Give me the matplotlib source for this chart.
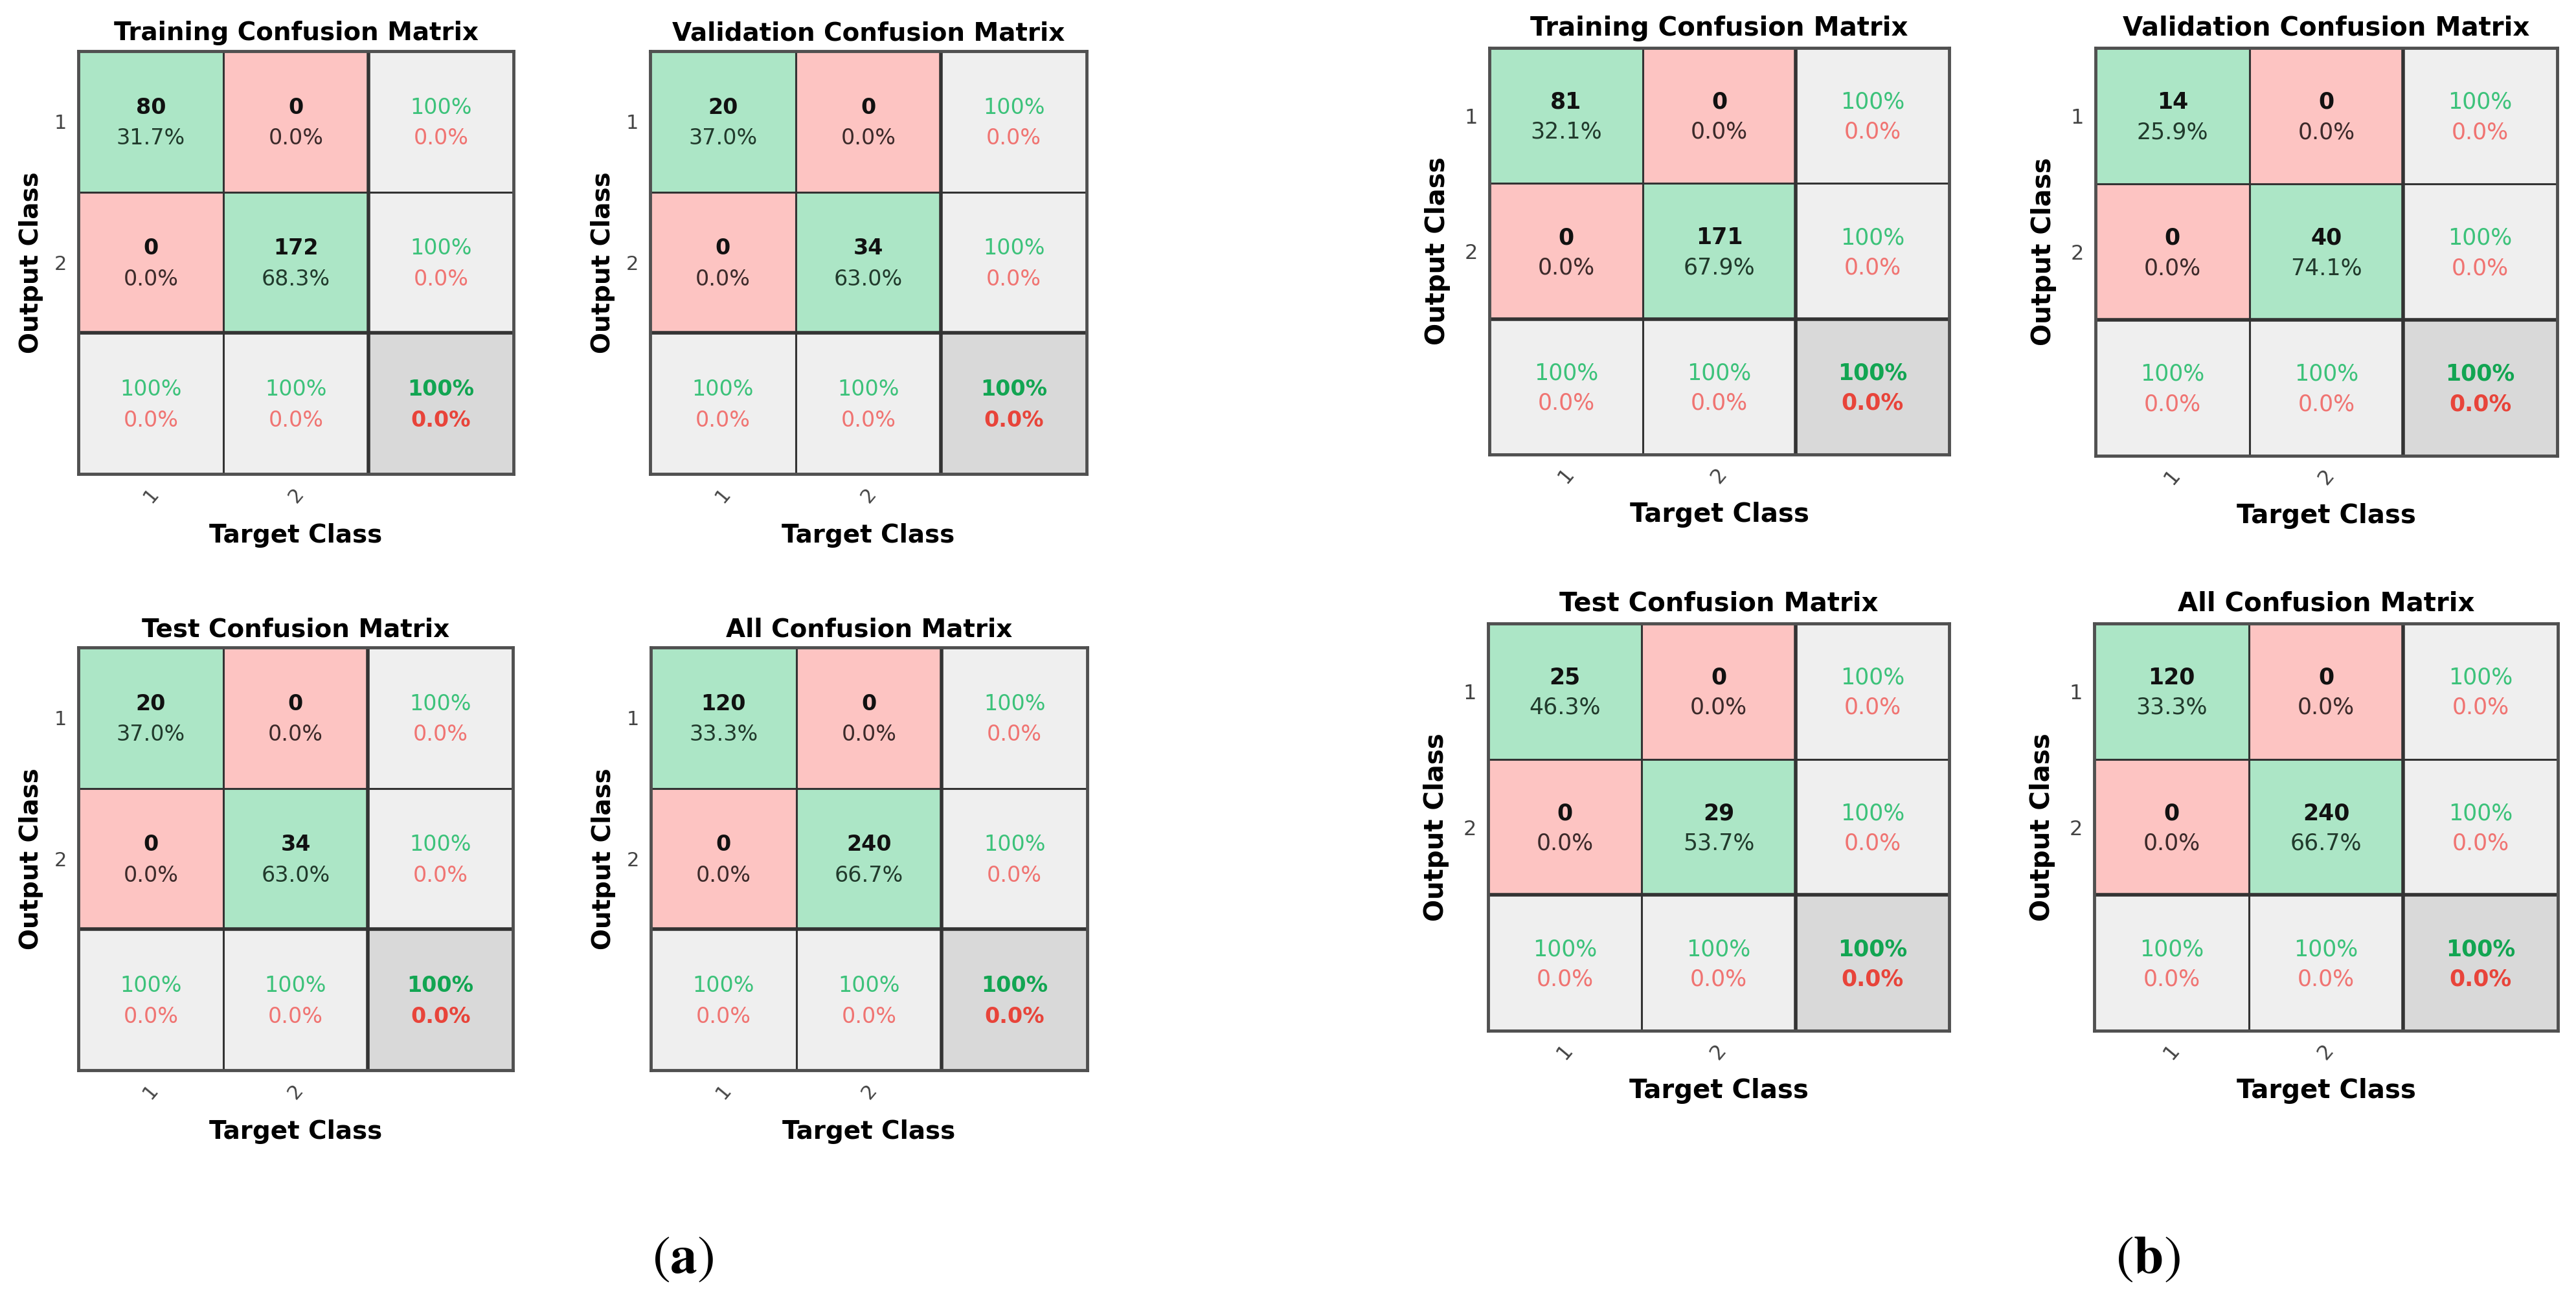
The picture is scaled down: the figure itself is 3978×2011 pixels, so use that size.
import numpy as np
import matplotlib
matplotlib.use("Agg")
import matplotlib.pyplot as plt
from matplotlib.colors import ListedColormap

plt.rcParams["font.family"] = ["DejaVu Sans"]
plt.rcParams["mathtext.fontset"] = "stix"

# confusion matrices: rows = output class, cols = target class
a_train = [[80, 0], [0, 172]]
a_val = [[20, 0], [0, 34]]
a_test = [[20, 0], [0, 34]]
a_all = [[120, 0], [0, 240]]

b_train = [[81, 0], [0, 171]]
b_val = [[14, 0], [0, 40]]
b_test = [[25, 0], [0, 29]]
b_all = [[120, 0], [0, 240]]

class_labels = ["1", "2"]
titles = ["Training Confusion Matrix", "Validation Confusion Matrix",
          "Test Confusion Matrix", "All Confusion Matrix"]

W, H = 3978, 2011
fig = plt.figure(figsize=(W / 100, H / 100), dpi=100)

# green, red, light gray, dark gray
cell_cmap = ListedColormap(["#ace6c6", "#fdc4c2", "#efefef", "#d9d9d9"])


def fmt_pct(v):
    return "100%" if round(v, 1) == 100 else "%.1f%%" % v


def add_panel(counts, title, box, fs):
    x0, y0, x1, y1 = box
    ax = fig.add_axes([x0 / W, 1 - y1 / H, (x1 - x0) / W, (y1 - y0) / H])
    cm = np.array(counts)
    n = cm.shape[0]
    total = cm.sum()

    kinds = np.full((n + 1, n + 1), 2)
    for i in range(n):
        for j in range(n):
            kinds[i, j] = 0 if i == j else 1
    kinds[n, n] = 3
    ax.pcolormesh(np.arange(n + 2), np.arange(n + 2), kinds, cmap=cell_cmap,
                  vmin=-0.5, vmax=3.5)
    ax.set_xlim(0, n + 1)
    ax.set_ylim(n + 1, 0)

    up, dn = -0.10, 0.12
    cfs = fs["cell"]
    for i in range(n):
        for j in range(n):
            pct_col = "#213a2c" if i == j else "#3c2a2a"
            ax.text(j + 0.5, i + 0.5 + up, str(cm[i, j]), ha="center", va="center",
                    fontsize=cfs, fontweight="bold", color="#111111")
            ax.text(j + 0.5, i + 0.5 + dn, "%.1f%%" % (100 * cm[i, j] / total),
                    ha="center", va="center", fontsize=cfs, color=pct_col)

    # row summaries (precision) and column summaries (recall)
    for i in range(n):
        p = 100 * cm[i, i] / cm[i, :].sum()
        ax.text(n + 0.5, i + 0.5 + up, fmt_pct(p), ha="center", va="center",
                fontsize=cfs, color="#3cc27a")
        ax.text(n + 0.5, i + 0.5 + dn, fmt_pct(100 - p), ha="center", va="center",
                fontsize=cfs, color="#f07472")
        r = 100 * cm[i, i] / cm[:, i].sum()
        ax.text(i + 0.5, n + 0.5 + up, fmt_pct(r), ha="center", va="center",
                fontsize=cfs, color="#3cc27a")
        ax.text(i + 0.5, n + 0.5 + dn, fmt_pct(100 - r), ha="center", va="center",
                fontsize=cfs, color="#f07472")
    acc = 100 * np.trace(cm) / total
    ax.text(n + 0.5, n + 0.5 + up, fmt_pct(acc), ha="center", va="center",
            fontsize=cfs, fontweight="bold", color="#12a552")
    ax.text(n + 0.5, n + 0.5 + dn, fmt_pct(100 - acc), ha="center", va="center",
            fontsize=cfs, fontweight="bold", color="#e8443a")

    # cell borders
    thin = list(range(1, n))
    ax.vlines(thin, 0, n + 1, colors="#333333", linewidth=2.2)
    ax.hlines(thin, 0, n + 1, colors="#333333", linewidth=2.2)
    ax.vlines([n], 0, n + 1, colors="#333333", linewidth=4.0)
    ax.hlines([n], 0, n + 1, colors="#333333", linewidth=4.0)
    for s in ax.spines.values():
        s.set_linewidth(3.5)
        s.set_color("#505050")

    ax.set_xticks(np.arange(n) + 0.5)
    ax.set_xticklabels(class_labels, rotation=50, fontsize=fs["tick"], color="#444444")
    ax.set_yticks(np.arange(n) + 0.5)
    ax.set_yticklabels(class_labels, fontsize=fs["tick"], color="#444444")
    ax.tick_params(axis="both", length=0)
    ax.tick_params(axis="x", pad=fs["xpad"])
    ax.tick_params(axis="y", pad=fs["ypad"])

    ax.set_title(title, fontsize=fs["title"], fontweight="bold", pad=fs["tpad"])
    ax.set_xlabel("Target Class", fontsize=fs["title"], fontweight="bold", va="center")
    ax.set_ylabel("Output Class", fontsize=fs["title"], fontweight="bold", va="center")
    gw, gh = x1 - x0, y1 - y0
    ax.xaxis.set_label_coords(0.5, -fs["xl"] / gh)
    ax.yaxis.set_label_coords(-fs["yl"] / gw, 0.5)
    return ax


fs_a = dict(cell=24, tick=22, title=28, tpad=12, xpad=12, ypad=13, xl=95, yl=73)
fs_b = dict(cell=25, tick=23, title=29, tpad=14, xpad=11, ypad=13, xl=93, yl=80)

boxes_a = [(121, 79, 793, 732), (1004, 79, 1678, 732),
           (121, 1000, 792, 1653), (1005, 1000, 1679, 1653)]
boxes_b = [(2300, 74, 3010, 702), (3236, 74, 3949, 704),
           (2298, 963, 3010, 1592), (3234, 963, 3950, 1592)]

for cm, t, box in zip([a_train, a_val, a_test, a_all], titles, boxes_a):
    add_panel(cm, t, box, fs_a)
for cm, t, box in zip([b_train, b_val, b_test, b_all], titles, boxes_b):
    add_panel(cm, t, box, fs_b)

fig.text(1055 / W, 1 - 1943 / H, r"$(\mathbf{a})$", fontsize=60, ha="center", va="center")
fig.text(3317 / W, 1 - 1943 / H, r"$(\mathbf{b})$", fontsize=60, ha="center", va="center")

fig.savefig("out.png", dpi=100, facecolor="white")
